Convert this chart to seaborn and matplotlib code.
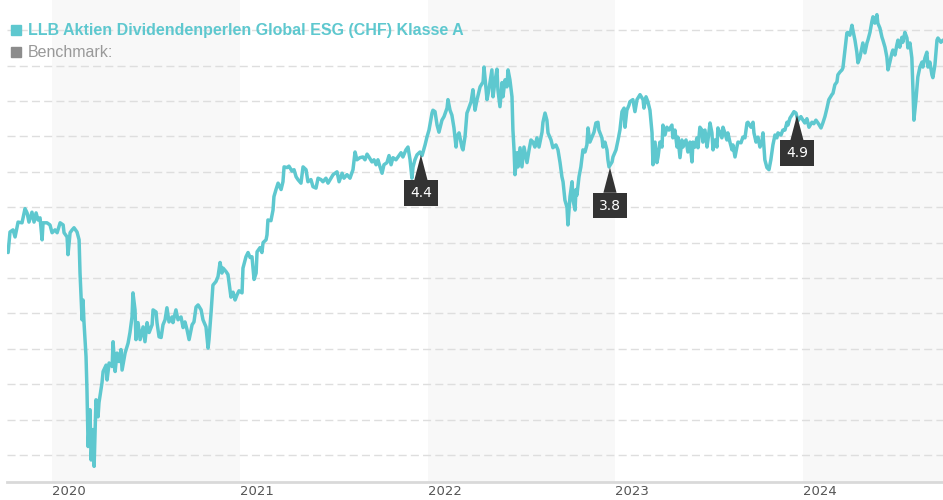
import matplotlib
matplotlib.use("Agg")
import matplotlib.pyplot as plt
from matplotlib.lines import Line2D
import seaborn as sns
import pandas as pd

# ---- data (decimal year, NAV) ----
years = [
    2019.766, 2019.771, 2019.776, 2019.792, 2019.803, 2019.819, 2019.840, 2019.856, 2019.867, 2019.877,
    2019.893, 2019.904, 2019.915, 2019.925, 2019.936, 2019.947, 2019.952, 2019.973, 2019.989, 2020.000,
    2020.016, 2020.027, 2020.043, 2020.059, 2020.064, 2020.080, 2020.085, 2020.096, 2020.107, 2020.117,
    2020.133, 2020.144, 2020.149, 2020.160, 2020.165, 2020.170, 2020.181, 2020.186, 2020.192, 2020.202,
    2020.208, 2020.218, 2020.224, 2020.234, 2020.245, 2020.250, 2020.266, 2020.272, 2020.288, 2020.293,
    2020.304, 2020.320, 2020.325, 2020.336, 2020.346, 2020.357, 2020.367, 2020.373, 2020.389, 2020.405,
    2020.415, 2020.426, 2020.431, 2020.442, 2020.447, 2020.458, 2020.469, 2020.485, 2020.495, 2020.506,
    2020.517, 2020.533, 2020.538, 2020.554, 2020.559, 2020.570, 2020.581, 2020.591, 2020.602, 2020.612,
    2020.623, 2020.639, 2020.644, 2020.660, 2020.671, 2020.687, 2020.698, 2020.708, 2020.719, 2020.730,
    2020.746, 2020.756, 2020.767, 2020.778, 2020.794, 2020.804, 2020.820, 2020.831, 2020.836, 2020.847,
    2020.857, 2020.873, 2020.884, 2020.895, 2020.905, 2020.911, 2020.927, 2020.937, 2020.943, 2020.953,
    2020.964, 2020.975, 2020.985, 2020.996, 2021.012, 2021.017, 2021.033, 2021.044, 2021.055, 2021.065,
    2021.076, 2021.087, 2021.092, 2021.108, 2021.118, 2021.124, 2021.140, 2021.145, 2021.150, 2021.166,
    2021.177, 2021.182, 2021.193, 2021.204, 2021.220, 2021.230, 2021.236, 2021.252, 2021.262, 2021.278,
    2021.289, 2021.300, 2021.310, 2021.326, 2021.337, 2021.353, 2021.363, 2021.379, 2021.390, 2021.406,
    2021.417, 2021.433, 2021.443, 2021.459, 2021.470, 2021.486, 2021.497, 2021.518, 2021.529, 2021.545,
    2021.555, 2021.571, 2021.587, 2021.603, 2021.614, 2021.624, 2021.640, 2021.656, 2021.667, 2021.678,
    2021.688, 2021.704, 2021.715, 2021.726, 2021.736, 2021.747, 2021.758, 2021.768, 2021.784, 2021.795,
    2021.806, 2021.816, 2021.832, 2021.843, 2021.859, 2021.869, 2021.885, 2021.896, 2021.907, 2021.917,
    2021.923, 2021.933, 2021.944, 2021.960, 2021.971, 2021.987, 2021.997, 2022.008, 2022.024, 2022.029,
    2022.040, 2022.051, 2022.061, 2022.077, 2022.088, 2022.104, 2022.109, 2022.120, 2022.130, 2022.141,
    2022.152, 2022.157, 2022.168, 2022.184, 2022.189, 2022.200, 2022.210, 2022.216, 2022.232, 2022.242,
    2022.253, 2022.264, 2022.280, 2022.296, 2022.301, 2022.311, 2022.317, 2022.327, 2022.343, 2022.349,
    2022.359, 2022.370, 2022.375, 2022.386, 2022.397, 2022.402, 2022.413, 2022.423, 2022.429, 2022.439,
    2022.450, 2022.455, 2022.461, 2022.466, 2022.477, 2022.482, 2022.493, 2022.503, 2022.514, 2022.530,
    2022.541, 2022.551, 2022.562, 2022.572, 2022.583, 2022.594, 2022.610, 2022.615, 2022.626, 2022.636,
    2022.642, 2022.658, 2022.668, 2022.684, 2022.695, 2022.706, 2022.716, 2022.722, 2022.732, 2022.743,
    2022.748, 2022.759, 2022.770, 2022.775, 2022.786, 2022.791, 2022.796, 2022.807, 2022.817, 2022.828,
    2022.839, 2022.849, 2022.855, 2022.865, 2022.876, 2022.887, 2022.897, 2022.908, 2022.913, 2022.929,
    2022.935, 2022.945, 2022.956, 2022.961, 2022.967, 2022.983, 2022.988, 2023.004, 2023.015, 2023.025,
    2023.036, 2023.047, 2023.052, 2023.062, 2023.073, 2023.078, 2023.094, 2023.105, 2023.116, 2023.132,
    2023.148, 2023.153, 2023.164, 2023.174, 2023.185, 2023.196, 2023.201, 2023.212, 2023.222, 2023.228,
    2023.238, 2023.249, 2023.254, 2023.265, 2023.275, 2023.286, 2023.302, 2023.307, 2023.318, 2023.329,
    2023.334, 2023.345, 2023.355, 2023.361, 2023.377, 2023.387, 2023.398, 2023.409, 2023.414, 2023.425,
    2023.435, 2023.441, 2023.451, 2023.462, 2023.467, 2023.478, 2023.489, 2023.494, 2023.505, 2023.515,
    2023.521, 2023.531, 2023.542, 2023.547, 2023.558, 2023.568, 2023.574, 2023.584, 2023.595, 2023.600,
    2023.611, 2023.622, 2023.627, 2023.638, 2023.648, 2023.654, 2023.670, 2023.680, 2023.691, 2023.702,
    2023.707, 2023.723, 2023.734, 2023.739, 2023.750, 2023.760, 2023.771, 2023.781, 2023.787, 2023.797,
    2023.808, 2023.819, 2023.829, 2023.840, 2023.851, 2023.861, 2023.867, 2023.883, 2023.893, 2023.904,
    2023.915, 2023.920, 2023.931, 2023.941, 2023.952, 2023.963, 2023.973, 2023.989, 2024.000, 2024.010,
    2024.021, 2024.032, 2024.048, 2024.058, 2024.069, 2024.080, 2024.096, 2024.106, 2024.117, 2024.128,
    2024.138, 2024.154, 2024.160, 2024.170, 2024.181, 2024.186, 2024.197, 2024.208, 2024.213, 2024.224,
    2024.234, 2024.239, 2024.250, 2024.261, 2024.266, 2024.277, 2024.287, 2024.293, 2024.303, 2024.314,
    2024.319, 2024.330, 2024.341, 2024.346, 2024.357, 2024.367, 2024.373, 2024.383, 2024.394, 2024.399,
    2024.410, 2024.421, 2024.426, 2024.437, 2024.447, 2024.453, 2024.463, 2024.474, 2024.479, 2024.490,
    2024.500, 2024.506, 2024.516, 2024.527, 2024.532, 2024.543, 2024.554, 2024.559, 2024.570, 2024.580,
    2024.586, 2024.591, 2024.602, 2024.612, 2024.623, 2024.634, 2024.639, 2024.650, 2024.660, 2024.666,
    2024.676, 2024.687, 2024.692, 2024.703, 2024.714, 2024.719, 2024.735, 2024.746,
]
nav = [
    103.6, 105.0, 106.5, 106.8, 105.8, 107.9, 107.8, 109.8, 109.2, 107.9,
    109.3, 107.9, 109.2, 108.2, 108.5, 105.4, 107.8, 107.8, 107.5, 106.4,
    106.8, 106.4, 107.8, 107.5, 106.4, 105.8, 103.3, 106.4, 106.8, 107.1,
    106.5, 105.4, 100.7, 94.1, 96.9, 93.8, 88.9, 84.2, 76.2, 81.4,
    74.3, 78.6, 73.4, 82.8, 80.4, 82.4, 85.2, 86.8, 87.7, 85.6,
    88.0, 87.5, 91.0, 86.8, 89.4, 88.2, 89.9, 87.0, 89.4, 90.8,
    92.3, 94.5, 97.9, 95.5, 91.3, 93.7, 91.3, 93.1, 91.0, 93.7,
    92.3, 93.4, 95.5, 95.2, 93.7, 91.7, 91.6, 93.4, 94.1, 95.8,
    93.8, 94.5, 93.7, 95.5, 94.1, 94.5, 93.0, 93.8, 92.7, 91.3,
    93.4, 93.8, 95.9, 96.2, 95.5, 94.1, 93.1, 90.1, 91.3, 95.1,
    99.0, 99.5, 100.2, 102.2, 100.7, 101.4, 100.9, 100.5, 99.3, 97.3,
    98.0, 96.9, 97.6, 98.2, 97.9, 101.4, 103.0, 103.6, 102.9, 103.0,
    99.8, 100.7, 103.7, 104.3, 103.6, 105.0, 105.4, 106.1, 108.2, 108.1,
    109.6, 111.5, 112.5, 113.4, 112.5, 113.6, 115.7, 115.6, 115.8, 115.1,
    115.3, 114.3, 113.9, 113.4, 115.7, 115.3, 113.6, 113.9, 112.9, 112.7,
    114.1, 113.9, 113.6, 114.1, 113.4, 114.1, 114.6, 115.0, 113.6, 114.8,
    114.1, 114.6, 114.1, 115.3, 117.8, 116.7, 117.0, 117.1, 116.7, 117.5,
    117.1, 116.4, 116.7, 116.0, 116.7, 115.7, 114.8, 116.0, 116.3, 117.3,
    116.0, 117.0, 116.7, 117.1, 117.7, 117.1, 118.1, 118.5, 116.7, 114.1,
    115.7, 116.7, 117.4, 117.8, 117.3, 118.8, 119.9, 120.9, 123.3, 123.7,
    123.5, 121.6, 120.6, 122.3, 122.8, 124.0, 125.2, 123.7, 123.0, 121.2,
    118.5, 120.0, 120.5, 118.4, 118.1, 120.0, 123.3, 123.7, 124.9, 126.6,
    123.7, 125.2, 127.0, 127.7, 129.8, 127.0, 125.2, 126.6, 129.4, 125.6,
    127.7, 129.5, 126.6, 124.2, 127.6, 125.6, 128.0, 127.0, 129.4, 128.0,
    125.6, 120.9, 118.1, 114.6, 117.7, 115.7, 118.4, 115.7, 118.5, 116.3,
    118.1, 119.5, 119.2, 118.5, 119.8, 118.5, 120.6, 122.0, 123.3, 122.3,
    120.5, 119.5, 118.4, 118.8, 118.1, 116.3, 114.3, 113.6, 111.0, 110.0,
    107.5, 111.5, 113.6, 111.0, 109.6, 112.5, 111.7, 114.3, 115.7, 118.1,
    117.8, 118.8, 121.2, 119.2, 119.9, 120.6, 121.9, 122.0, 120.9, 119.8,
    118.5, 119.2, 118.1, 116.7, 115.7, 116.4, 117.1, 118.1, 119.5, 120.9,
    123.5, 124.0, 121.3, 123.7, 124.4, 124.9, 125.2, 123.5, 125.2, 125.9,
    125.2, 124.0, 125.6, 124.9, 123.7, 120.5, 116.0, 119.2, 116.3, 117.1,
    119.2, 118.5, 121.6, 120.2, 121.3, 120.9, 121.6, 119.8, 120.9, 118.5,
    119.9, 117.0, 119.5, 118.5, 119.5, 117.8, 119.2, 116.4, 119.2, 118.5,
    119.8, 118.4, 121.3, 120.9, 119.2, 120.9, 118.5, 119.5, 121.9, 120.5,
    118.1, 119.5, 118.5, 121.2, 120.5, 119.8, 121.3, 120.5, 119.5, 120.5,
    119.2, 118.1, 118.8, 117.1, 118.5, 119.2, 119.1, 119.9, 119.8, 121.9,
    122.0, 121.3, 122.0, 120.5, 119.2, 119.9, 118.5, 119.2, 120.5, 116.7,
    115.6, 115.3, 116.7, 118.8, 120.2, 119.8, 120.5, 120.2, 120.9, 120.9,
    122.0, 121.6, 122.6, 123.0, 123.5, 123.3, 122.2, 122.8, 122.3, 121.9,
    122.5, 121.3, 122.0, 121.8, 122.3, 121.9, 121.2, 121.9, 122.8, 124.0,
    125.2, 125.9, 126.1, 127.3, 127.7, 128.7, 129.1, 129.4, 129.7, 132.2,
    134.6, 134.7, 134.3, 135.7, 135.0, 133.6, 131.9, 130.4, 131.1, 132.5,
    133.2, 131.8, 133.2, 133.6, 134.7, 136.2, 136.9, 136.0, 137.2, 136.0,
    135.3, 134.0, 133.6, 132.6, 131.2, 129.4, 130.5, 131.8, 132.2, 131.5,
    132.9, 133.6, 132.6, 134.0, 133.3, 134.7, 133.9, 132.5, 133.2, 131.1,
    126.6, 122.3, 125.2, 128.4, 129.8, 130.5, 129.8, 131.1, 131.9, 129.8,
    130.5, 128.7, 128.3, 130.1, 133.6, 133.9, 133.3, 133.6,
]

fund_name = "LLB Aktien Dividendenperlen Global ESG (CHF) Klasse A"
benchmark_name = "Benchmark:"

# dividend markers
div_years = [2021.965, 2022.972, 2023.968]
div_values = [117.4, 115.6, 123.0]
div_labels = ["4.4", "3.8", "4.9"]

year_ticks = [2020, 2021, 2022, 2023, 2024]
shaded_years = [2020, 2022, 2024]
grid_values = [75, 80, 85, 90, 95, 100, 105, 110, 115, 120, 125, 130, 135]

LINE = "#5ec8cf"

sns.set_theme(style="white")
plt.rcParams["font.family"] = ["DejaVu Sans"]
plt.rcParams["lines.scale_dashes"] = False

df = pd.DataFrame({"year": years, "nav": nav})

fig = plt.figure(figsize=(9.43, 5.0), dpi=100)
ax = fig.add_axes([7 / 943, 18 / 500, 936 / 943, 482 / 500])

xmin, xmax = 2019.760, 2024.746
ymin, ymax = 71.19, 139.27

# alternating year bands
for y0 in shaded_years:
    ax.axvspan(y0, min(y0 + 1, xmax), color="#f8f8f8", lw=0, zorder=0)

# dashed grid
for g in grid_values:
    ax.axhline(g, color="#dedede", lw=1.0, ls=(0, (5.8, 3.0)), zorder=1)

sns.lineplot(data=df, x="year", y="nav", sort=False, estimator=None,
             color=LINE, linewidth=2.5, ax=ax, zorder=3)

# dividend annotations
for xv, yv, lab in zip(div_years, div_values, div_labels):
    ax.annotate(lab, xy=(xv, yv), xytext=(0, -38), textcoords="offset pixels",
                ha="center", va="center", color="white", fontsize=10,
                bbox=dict(boxstyle="square,pad=0.42", fc="#333333", ec="none"),
                arrowprops=dict(arrowstyle="wedge,tail_width=0.95,shrink_factor=0.5",
                                fc="#333333", ec="none", shrinkA=0, shrinkB=0),
                zorder=5)

ax.set_xlim(xmin, xmax)
ax.set_ylim(ymin, ymax)
ax.set_xlabel("")
ax.set_ylabel("")
ax.set_yticks([])
ax.set_xticks(year_ticks)
ax.set_xticklabels([str(t) for t in year_ticks], ha="left", color="#555555", fontsize=9.5)
ax.tick_params(axis="x", length=0, pad=2)
for s in ["left", "right", "top"]:
    ax.spines[s].set_visible(False)
ax.spines["bottom"].set_color("#d9d9d9")
ax.spines["bottom"].set_linewidth(2)
ax.set_facecolor("white")

handles = [
    Line2D([], [], ls="none", marker="s", markersize=7, color=LINE),
    Line2D([], [], ls="none", marker="s", markersize=7, color="#8c8c8c"),
]
leg = ax.legend(handles, [fund_name, benchmark_name], loc="upper left",
                bbox_to_anchor=(0.003, 0.955), frameon=False, fontsize=11.5,
                handlelength=0.6, handletextpad=0.45, labelspacing=0.45,
                borderaxespad=0, borderpad=0.1)
leg.set_zorder(6)
t0, t1 = leg.get_texts()
t0.set_color(LINE)
t0.set_fontweight("bold")
t0.set_family(["Liberation Sans", "DejaVu Sans"])
t1.set_color("#999999")
t1.set_family(["Liberation Sans", "DejaVu Sans"])

fig.savefig("out.png", dpi=100)
